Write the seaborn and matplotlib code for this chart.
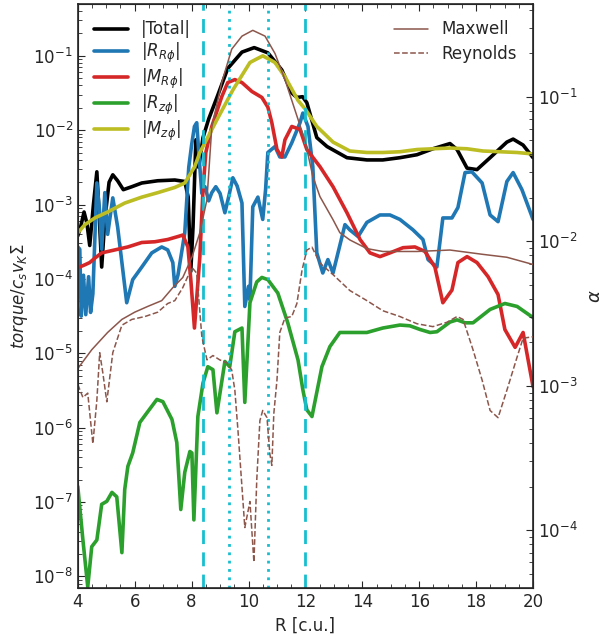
import numpy as np
import pandas as pd
import matplotlib
matplotlib.use("Agg")
import matplotlib.pyplot as plt
import seaborn as sns

# ---------------- data (log10 of values) ----------------
total_R = [4.0, 4.1, 4.22, 4.32, 4.42, 4.55, 4.67, 4.76, 4.84, 4.95, 5.1, 5.23, 5.4, 5.6,
           5.9, 6.25, 6.81, 7.41, 7.76, 7.88, 7.97, 8.05, 8.15, 8.25, 8.4, 8.6, 8.9, 9.27,
           9.77, 10.2, 10.68, 11.17, 11.52, 11.7, 11.9, 12.05, 12.4, 12.76, 13.46, 14.16,
           14.72, 15.32, 15.92, 16.48, 17.08, 17.33, 17.68, 18.03, 18.49, 19.08, 19.3,
           19.65, 20.0]
total_log = [-3.42, -3.3, -3.10, -3.25, -3.55, -3.0, -2.56, -3.2, -3.84, -3.2, -2.7, -2.60,
             -2.68, -2.80, -2.76, -2.71, -2.68, -2.67, -2.69, -2.9, -3.9, -3.3, -2.13, -2.5,
             -2.1, -1.85, -1.55, -1.17, -0.95, -0.89, -0.96, -1.19, -1.50, -1.56, -1.55,
             -1.63, -2.10, -2.22, -2.37, -2.40, -2.40, -2.37, -2.33, -2.25, -2.18, -2.26,
             -2.51, -2.53, -2.37, -2.16, -2.12, -2.20, -2.37]

rrp_R = [4.0, 4.07, 4.12, 4.2, 4.28, 4.38, 4.45, 4.53, 4.67, 4.77, 4.84, 4.95, 5.05, 5.23,
         5.4, 5.72, 5.93, 6.25, 6.6, 6.95, 7.16, 7.34, 7.41, 7.52, 7.76, 7.9, 8.0, 8.1,
         8.18, 8.27, 8.36, 8.47, 8.6, 8.71, 8.85, 9.0, 9.17, 9.3, 9.45, 9.6, 9.77, 9.87,
         10.0, 10.05, 10.15, 10.33, 10.5, 10.6, 10.68, 10.93, 11.1, 11.28, 11.52, 11.81,
         11.91, 12.09, 12.26, 12.4, 12.61, 12.79, 12.97, 13.39, 13.56, 13.85, 14.16, 14.62,
         14.97, 15.32, 15.78, 16.13, 16.31, 16.62, 16.83, 17.15, 17.36, 17.61, 17.85,
         18.21, 18.49, 18.77, 19.08, 19.3, 19.61, 20.0]
rrp_log = [-3.57, -3.6, -4.5, -3.95, -4.48, -3.97, -4.45, -4.2, -2.71, -3.1, -3.6, -2.84,
           -3.4, -2.91, -3.3, -4.32, -4.01, -3.84, -3.65, -3.57, -3.61, -3.78, -4.1, -3.95,
           -3.38, -2.5, -2.2, -1.95, -1.9, -2.4, -2.85, -2.76, -2.95, -2.84, -2.76, -2.85,
           -3.11, -2.9, -2.64, -2.75, -2.98, -4.37, -4.1, -4.28, -3.03, -2.9, -3.2, -2.8,
           -2.3, -2.22, -2.36, -2.36, -2.17, -1.90, -1.77, -1.95, -2.49, -3.65, -3.92, -3.74,
           -3.92, -3.27, -3.34, -3.43, -3.24, -3.14, -3.14, -3.20, -3.34, -3.47, -3.74, -3.84,
           -3.18, -3.18, -3.04, -2.57, -2.56, -2.71, -3.14, -3.23, -2.69, -2.57, -2.80, -3.2]

mrp_R = [4.0, 4.25, 4.42, 4.6, 4.84, 5.3, 5.76, 6.25, 6.71, 7.16, 7.52, 7.69, 7.87, 7.97,
         8.1, 8.29, 8.4, 8.5, 8.71, 9.06, 9.27, 9.52, 9.77, 10.12, 10.47, 10.68, 10.82, 11.0,
         11.17, 11.28, 11.52, 11.81, 12.05, 12.51, 12.97, 13.46, 13.92, 14.27, 14.62, 14.97,
         15.43, 15.85, 16.2, 16.55, 16.83, 17.15, 17.36, 17.68, 18.03, 18.42, 18.77, 19.01,
         19.37, 19.65, 20.0]
mrp_log = [-3.85, -3.81, -3.78, -3.72, -3.65, -3.61, -3.57, -3.51, -3.50, -3.47, -3.43,
           -3.41, -3.57, -4.0, -4.66, -3.70, -2.80, -2.30, -1.95, -1.55, -1.36, -1.32, -1.36,
           -1.48, -1.56, -1.69, -1.90, -2.26, -2.36, -2.13, -1.95, -1.99, -2.26, -2.49, -2.76,
           -3.11, -3.47, -3.65, -3.70, -3.65, -3.58, -3.57, -3.63, -3.84, -4.32, -4.15, -3.78,
           -3.70, -3.78, -3.97, -4.21, -4.68, -4.92, -4.72, -5.45]

rzp_R = [4.0, 4.18, 4.35, 4.49, 4.67, 4.84, 5.02, 5.2, 5.37, 5.55, 5.65, 5.76, 5.93, 6.18,
         6.43, 6.78, 6.99, 7.31, 7.48, 7.62, 7.76, 7.94, 8.01, 8.08, 8.22, 8.4, 8.57, 8.75,
         8.89, 9.17, 9.34, 9.52, 9.77, 9.87, 10.05, 10.29, 10.47, 10.68, 11.03, 11.38, 11.74,
         11.91, 12.05, 12.23, 12.58, 12.86, 13.21, 13.56, 14.16, 14.72, 15.32, 15.67, 16.03,
         16.38, 16.62, 17.08, 17.33, 17.61, 17.89, 18.49, 19.01, 19.44, 20.0]
rzp_log = [-6.79, -7.51, -8.14, -7.60, -7.51, -7.03, -6.99, -6.87, -6.93, -7.68, -6.83,
           -6.52, -6.34, -5.93, -5.80, -5.62, -5.65, -5.89, -6.20, -7.10, -6.60, -6.32, -6.34,
           -7.24, -5.85, -5.40, -5.18, -5.22, -5.80, -5.11, -5.18, -4.71, -4.66, -5.66, -4.32,
           -4.04, -3.98, -4.01, -4.19, -4.59, -5.09, -5.49, -5.76, -5.85, -5.18, -4.91, -4.72,
           -4.72, -4.72, -4.66, -4.62, -4.63, -4.68, -4.72, -4.71, -4.58, -4.55, -4.59, -4.59,
           -4.41, -4.33, -4.37, -4.52]

mzp_R = [4.0, 4.25, 4.6, 5.05, 5.65, 6.25, 6.81, 7.41, 7.76, 8.11, 8.29, 8.89, 9.45, 10.05,
         10.5, 10.93, 11.28, 11.74, 12.0, 12.4, 12.97, 13.56, 14.16, 14.72, 15.32, 15.92,
         16.48, 17.08, 17.68, 18.24, 18.84, 19.44, 20.0]
mzp_log = [-3.38, -3.27, -3.18, -3.10, -2.98, -2.90, -2.84, -2.77, -2.71, -2.49, -2.30,
           -1.86, -1.46, -1.09, -1.00, -1.09, -1.28, -1.60, -1.72, -1.95, -2.16, -2.28, -2.30,
           -2.30, -2.29, -2.26, -2.25, -2.24, -2.25, -2.28, -2.29, -2.30, -2.32]

maxw_R = [4.0, 4.49, 5.05, 5.55, 6.0, 6.46, 6.95, 7.34, 7.69, 8.01, 8.29, 8.54, 8.71, 9.06,
          9.41, 9.77, 10.15, 10.58, 10.93, 11.28, 11.63, 11.98, 12.26, 12.51, 12.97, 13.21,
          13.56, 14.16, 14.72, 15.92, 17.08, 18.24, 19.08, 20.0]
maxw_log = [-2.88, -2.75, -2.63, -2.54, -2.49, -2.45, -2.41, -2.32, -2.25, -2.11, -1.94,
            -1.71, -1.21, -0.90, -0.67, -0.58, -0.54, -0.58, -0.70, -0.88, -1.09, -1.30,
            -1.55, -1.69, -1.85, -1.94, -1.99, -2.05, -2.07, -2.07, -2.06, -2.09, -2.11, -2.16]

reyn_R = [4.0, 4.18, 4.35, 4.53, 4.67, 4.77, 4.88, 5.02, 5.23, 5.55, 5.9, 6.36, 6.81, 7.16,
          7.41, 7.69, 8.01, 8.18, 8.36, 8.54, 8.75, 8.99, 9.24, 9.41, 9.52, 9.63, 9.77, 9.87,
          10.05, 10.19, 10.29, 10.4, 10.5, 10.65, 10.75, 10.82, 10.89, 11.0, 11.1, 11.28,
          11.52, 11.7, 11.88, 12.05, 12.23, 12.51, 12.97, 13.56, 14.16, 14.72, 15.32, 15.92,
          16.48, 16.97, 17.33, 17.54, 17.89, 18.21, 18.49, 18.77, 19.08, 19.44, 19.65, 20.0]
reyn_log = [-2.99, -3.08, -3.05, -3.40, -3.10, -2.77, -2.91, -3.11, -2.77, -2.58, -2.54,
            -2.52, -2.49, -2.43, -2.41, -2.32, -2.18, -2.22, -2.66, -2.82, -2.79, -2.82,
            -2.84, -2.89, -3.03, -3.31, -3.70, -3.98, -3.80, -4.22, -3.65, -3.24, -3.17,
            -3.22, -3.47, -3.55, -3.19, -2.96, -2.63, -2.53, -2.52, -2.43, -2.20, -2.06,
            -2.04, -2.15, -2.23, -2.34, -2.41, -2.48, -2.52, -2.57, -2.59, -2.56, -2.52,
            -2.54, -2.75, -2.96, -3.17, -3.22, -3.03, -2.80, -2.67, -2.66]

dashed_R = [8.4, 12.0]
dotted_R = [9.3, 10.7]

torque_series = [
    ("|Total|", total_R, total_log, "black"),
    (r"$|R_{R\phi}|$", rrp_R, rrp_log, "tab:blue"),
    (r"$|M_{R\phi}|$", mrp_R, mrp_log, "tab:red"),
    (r"$|R_{z\phi}|$", rzp_R, rzp_log, "tab:green"),
    (r"$|M_{z\phi}|$", mzp_R, mzp_log, "tab:olive"),
]
alpha_series = [
    ("Maxwell", maxw_R, maxw_log, "-"),
    ("Reynolds", reyn_R, reyn_log, "--"),
]

# ---------------- plotting ----------------
sns.set_style("ticks")
plt.rcParams["font.family"] = ["DejaVu Sans"]
plt.rcParams["mathtext.fontset"] = "dejavusans"

fig = plt.figure(figsize=(6.03, 6.37), dpi=100)
ax = fig.add_axes([0.129, 0.077, 0.755, 0.917])
ax2 = ax.twinx()

for lab, R, lg, col in torque_series:
    df = pd.DataFrame({"R": R, "v": 10.0 ** np.array(lg)})
    sns.lineplot(data=df, x="R", y="v", ax=ax, color=col, lw=2.6, label=lab,
                 estimator=None, sort=False)

for lab, R, lg, ls in alpha_series:
    df = pd.DataFrame({"R": R, "v": 10.0 ** np.array(lg)})
    sns.lineplot(data=df, x="R", y="v", ax=ax2, color="tab:brown", lw=1.1,
                 linestyle=ls, label=lab, estimator=None, sort=False)

for r in dashed_R:
    ax.axvline(r, color="tab:cyan", ls=(0, (5, 3)), lw=2)
for r in dotted_R:
    ax.axvline(r, color="tab:cyan", ls=(0, (1, 2)), lw=2)

ax.set_yscale("log")
ax2.set_yscale("log")
ax.set_xlim(4, 20)
ax.set_ylim(7e-9, 0.5)
ax2.set_ylim(4.0e-5, 0.44)

ax.set_xticks([4, 6, 8, 10, 12, 14, 16, 18, 20])
ax.set_xticks(np.arange(4, 20.01, 0.5), minor=True)
ax.set_xlabel("R [c.u.]", fontsize=12)
ax2.set_xlabel("")
ax.set_ylabel(r"$torque/c_s v_K \Sigma$", fontsize=12, labelpad=2)
ax2.set_ylabel(r"$\alpha$", fontsize=13, labelpad=6)

for a in (ax, ax2):
    a.tick_params(axis="both", which="both", direction="in", labelsize=12)
    a.tick_params(which="major", length=5)
    a.tick_params(which="minor", length=3)
ax.tick_params(axis="x", which="both", top=True)
ax.tick_params(axis="y", which="both", right=False)
for s in ax.spines.values():
    s.set_linewidth(1.2)

leg1 = ax.legend(loc="upper left", frameon=False, fontsize=12, handlelength=2.0,
                 borderaxespad=0.6, labelspacing=0.12)
leg2 = ax2.legend(loc="upper right", frameon=False, fontsize=12, handlelength=2.0,
                  borderaxespad=0.6, labelspacing=0.4)

fig.savefig("out.png", dpi=100)
